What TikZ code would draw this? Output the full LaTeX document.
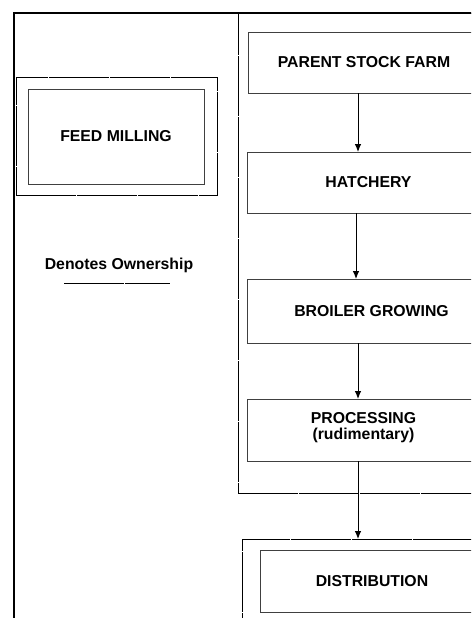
\documentclass[tikz,border=0pt]{standalone}
\usepackage{fontspec}
\setmainfont{Liberation Sans}
\usetikzlibrary{arrows.meta,calc,positioning}
\tikzstyle{frameline} = [draw=black,line width=1.6pt]
\tikzstyle{ownbox} = [rectangle,draw=black,line width=0.8pt,dash pattern={on 60pt off 1pt},inner sep=0pt,outer sep=0pt]
\tikzstyle{stagebox} = [rectangle,draw=black!75,line width=0.9pt,inner sep=0pt,outer sep=0pt]
\tikzstyle{stagetext} = [font=\fontsize{15.8}{16}\selectfont\bfseries,align=center]
\tikzstyle{flow} = [-{Latex[length=8pt,width=6.5pt]},line width=0.9pt]

\begin{document}
\begin{tikzpicture}[x=1pt,y=-1pt]
\useasboundingbox (0,0) rectangle (471,618);
\clip (0,0) rectangle (471,618);

% outer frame
\draw[frameline] (14,640) -- (14,13) -- (500,13);

\node (feedown) [ownbox,minimum width=201pt,minimum height=118pt] at (116.5,136) {};
\node (feed) [stagebox,minimum width=176pt,minimum height=95pt] at (116,136.5) {};
\node (feedtxt) [stagetext] at (feed.center) {FEED MILLING};

\node (legend) [stagetext] at (119,265) {Denotes Ownership};
\coordinate (legl) at (64,283);
\coordinate (legr) at (170,283);
\draw[ownbox] (legl) -- (legr);

\node (group) [ownbox,minimum width=257pt,minimum height=480pt] at (366.5,253) {};
\node (psf) [stagebox,minimum width=232pt,minimum height=61pt] at (364,62.5) {};
\node (hatch) [stagebox,minimum width=233pt,minimum height=61pt] at (363.5,182.5) {};
\node (broil) [stagebox,minimum width=233pt,minimum height=64pt] at (363.5,311) {};
\node (proc) [stagebox,minimum width=233pt,minimum height=62pt] at (363.5,430) {};
\node (distown) [ownbox,minimum width=253pt,minimum height=91pt] at (368.5,584.5) {};
\node (dist) [stagebox,minimum width=220pt,minimum height=62pt] at (370,581) {};

\node (psftxt) [stagetext] at (psf.center) {PARENT STOCK FARM};
\node (hatchtxt) [stagetext,xshift=5pt] at (hatch.center) {HATCHERY};
\node (broiltxt) [stagetext,xshift=8pt] at (broil.center) {BROILER GROWING};
\node (proctxt) [stagetext,yshift=2pt] at (proc.center) {PROCESSING\\(rudimentary)};
\node (disttxt) [stagetext,xshift=2pt] at (dist.center) {DISTRIBUTION};

\coordinate (axis) at (358,0);
\draw[flow] (psf.south -| axis) -- (hatch.north -| axis);
\draw[flow] ($(hatch.south -| axis)+(-2,0)$) -- ($(broil.north -| axis)+(-2,0)$);
\draw[flow] (broil.south -| axis) -- (proc.north -| axis);
\draw[flow] (proc.south -| axis) -- (distown.north -| axis);

\end{tikzpicture}
\end{document}
